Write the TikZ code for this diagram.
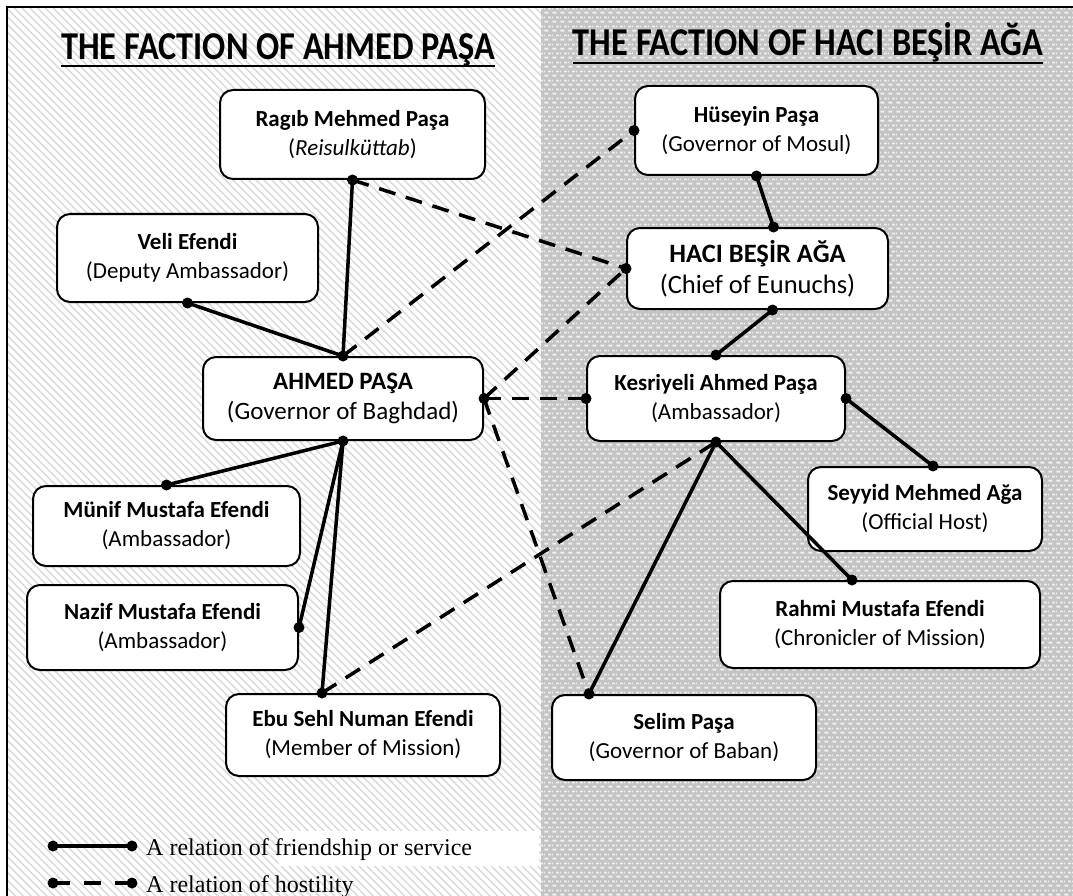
\documentclass[tikz,border=0pt]{standalone}
\usepackage{fontspec}
\setmainfont{Carlito}
\newfontfamily\legendfont{Liberation Serif}
\usetikzlibrary{patterns.meta,calc}
\tikzdeclarepattern{
  name=wdash,
  type=uncolored,
  bounding box={(0pt,0pt) and (8pt,9pt)},
  tile size={(8pt,9pt)},
  code={
    \fill (0.5pt,0.5pt) rectangle (5pt,2.5pt);
    \fill (4.5pt,5pt) rectangle (8pt,7pt);
    \fill (0pt,5pt) rectangle (1pt,7pt);
  }
}
\tikzset{
  person/.style={draw=black, line width=2pt, rounded corners=13pt, fill=white, align=center, inner sep=0pt,
    font=\fontsize{23}{29}\selectfont},
  bigperson/.style={person, font=\fontsize{25}{30}\selectfont},
  hugeperson/.style={person, font=\fontsize{26.5}{31}\selectfont},
  friend/.style={line width=3.5pt},
  foe/.style={line width=3.5pt, dash pattern=on 17pt off 11pt},
  title/.style={font=\fontsize{34.3}{38}\selectfont\bfseries, anchor=base, inner sep=0pt},
  legendtext/.style={anchor=base west, inner sep=0pt, font=\legendfont\fontsize{24}{28}\selectfont},
}
\newcommand{\mkbox}[7]{% name, style, x1,y1,x2,y2, text
  \node[#2, minimum width={#5-#3}, minimum height={#6-#4}] (#1) at ({(#3+#5)/2},{(#4+#6)/2}) {#7};}
\begin{document}
\begin{tikzpicture}[x=1pt,y=-1pt]
\useasboundingbox (0,0) rectangle (1073,896);
% backgrounds
\fill[white] (0,0) rectangle (1073,896);
\fill[white] (7,7) rectangle (541,896);
\fill[pattern={Lines[angle=-45,distance=5.5pt,line width=1.6pt]}, pattern color=black!14] (7,7) rectangle (541,896);
\fill[black!23] (541,7) rectangle (1073,896);
\fill[pattern=wdash, pattern color=white!94!black] (541,7) rectangle (1073,896);
\draw[line width=2.5pt] (7,896) -- (7,7) -- (1073,7);
% titles
\node[title] (t1) at (278,60) {\scalebox{1}[1.15]{THE FACTION OF AHMED PAŞA}};
\draw[line width=2.2pt] (t1.west |- 0,66) -- (t1.east |- 0,66);
\node[title] (t2) at (808,56) {\scalebox{1}[1.15]{THE FACTION OF HACI BEŞİR AĞA}};
\draw[line width=2.2pt] (t2.west |- 0,63) -- (t2.east |- 0,63);
% boxes
\mkbox{ragib}{person}{220}{90}{485}{179}{\textbf{Ragıb Mehmed Paşa}\\(\textit{Reisulküttab})}
\mkbox{huseyin}{person}{635}{86}{878}{175}{\textbf{Hüseyin Paşa}\\(Governor of Mosul)}
\mkbox{veli}{person}{57}{214}{318}{302}{\textbf{Veli Efendi}\\(Deputy Ambassador)}
\mkbox{haci}{hugeperson}{627}{228}{888}{309}{\textbf{HACI BEŞİR AĞA}\\(Chief of Eunuchs)}
\mkbox{ahmed}{bigperson}{203}{357}{483}{440}{\textbf{AHMED PAŞA}\\(Governor of Baghdad)}
\mkbox{kesri}{person}{587}{356}{845}{441}{\textbf{Kesriyeli Ahmed Paşa}\\(Ambassador)}
\mkbox{seyyid}{person}{808}{467}{1042}{551}{\textbf{Seyyid Mehmed Ağa}\\(Official Host)}
\mkbox{munif}{person}{33}{486}{300}{566}{\textbf{Münif Mustafa Efendi}\\(Ambassador)}
\mkbox{nazif}{person}{27}{585}{298}{670}{\textbf{Nazif Mustafa Efendi}\\(Ambassador)}
\mkbox{ebu}{person}{226}{694}{500}{776}{\textbf{Ebu Sehl Numan Efendi}\\(Member of Mission)}
\mkbox{rahmi}{person}{720}{581}{1040}{668}{\textbf{Rahmi Mustafa Efendi}\\(Chronicler of Mission)}
\mkbox{selim}{person}{552}{695}{816}{780}{\textbf{Selim Paşa}\\(Governor of Baban)}
% attachment points
\coordinate (hacitop) at ($(haci.north)+(16,0)$);
\coordinate (hacibot) at ($(haci.south)+(15,0)$);
\coordinate (seyyidtop) at ($(seyyid.north)+(8,0)$);
\coordinate (ebutop) at ($(ebu.north)+(-41,0)$);
\coordinate (rahmitop) at ($(rahmi.north)+(-28,0)$);
\coordinate (selimtop) at ($(selim.north)+(-95,0)$);
% friendship
\draw[friend] (ragib.south) -- (ahmed.north);
\draw[friend] (veli.south) -- (ahmed.north);
\draw[friend] (huseyin.south) -- (hacitop);
\draw[friend] (hacibot) -- (kesri.north);
\draw[friend] (kesri.east) -- (seyyidtop);
\draw[friend] (ahmed.south) -- (munif.north);
\draw[friend] (ahmed.south) -- (nazif.east);
\draw[friend] (ahmed.south) -- (ebutop);
\draw[friend] (kesri.south) -- (rahmitop);
\draw[friend] (kesri.south) -- (selimtop);
% hostility
\draw[foe] (ragib.south) -- (haci.west);
\draw[foe] (ahmed.north) -- (huseyin.west);
\draw[foe] (ahmed.east) -- (kesri.west);
\draw[foe] (ahmed.east) -- (haci.west);
\draw[foe] (ahmed.east) -- (selimtop);
\draw[foe] (ebutop) -- (kesri.south);
% dots
\foreach \p in {ragib.south, veli.south, ahmed.north, ahmed.east, ahmed.south, huseyin.west, huseyin.south, hacitop, hacibot, haci.west, kesri.north, kesri.west, kesri.east, kesri.south, seyyidtop, munif.north, nazif.east, ebutop, rahmitop, selimtop}
  \fill (\p) circle (5.5pt);
% legend
\fill[white] (279,831) rectangle (539,866);
\coordinate (la) at (53,846); \coordinate (lb) at (132,846);
\coordinate (lc) at (53,883); \coordinate (ld) at (132,883);
\draw[friend] (la) -- (lb);
\draw[line width=3.5pt, dash pattern=on 17pt off 14pt] (lc) -- (ld);
\foreach \p in {la,lb,lc,ld} \fill (\p) circle (5.5pt);
\node[legendtext] (leg1) at (146,855) {A relation of friendship or service};
\node[legendtext] (leg2) at (146,892) {A relation of hostility};
\end{tikzpicture}
\end{document}
